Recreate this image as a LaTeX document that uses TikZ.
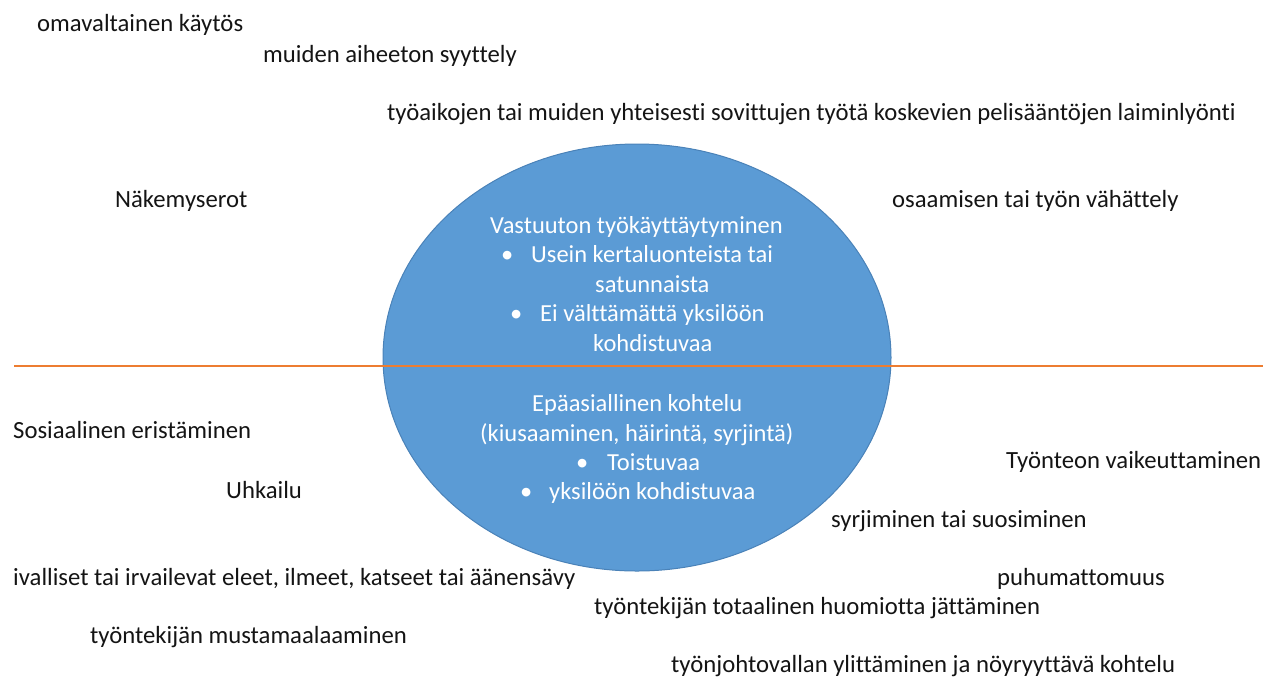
\documentclass[tikz,border=0pt]{standalone}
\usepackage{fontspec}
\setmainfont{Carlito}[Ligatures=NoCommon]
\usetikzlibrary{shapes.geometric}
\definecolor{ellfill}{HTML}{5B9BD5}
\definecolor{elldraw}{HTML}{4A82B8}
\definecolor{orangeline}{HTML}{ED7D31}
\begin{document}
\begin{tikzpicture}[x=1pt,y=-1pt,
  lbl/.style={anchor=base west,inner sep=0pt,font=\fontsize{24.7}{28}\selectfont,text=black!92},
  inl/.style={anchor=base west,inner sep=0pt,font=\fontsize{24.5}{28}\selectfont,text=white},
  bul/.style={inl}]
\useasboundingbox (0,0) rectangle (1263,678);
\node[ellipse,draw=elldraw,line width=1pt,fill=ellfill,minimum width=508pt,minimum height=427pt,inner sep=0pt] (ell) at (637,357.5) {};
\coordinate (lineL) at (14,366);
\coordinate (lineR) at (1263,366);
\draw[orangeline,line width=2pt] (lineL) -- (lineR);
% upper labels
\node[lbl] (t1) at (37,31) {omavaltainen käytös};
\node[lbl] (t2) at (263,62) {muiden aiheeton syyttely};
\node[lbl] (t3) at (387,120) {työaikojen tai muiden yhteisesti sovittujen työtä koskevien pelisääntöjen laiminlyönti};
\node[lbl] (t4) at (115,207) {Näkemyserot};
\node[lbl] (t5) at (892,207) {osaamisen tai työn vähättely};
% lower labels
\node[lbl] (b1) at (13,438) {Sosiaalinen eristäminen};
\node[lbl] (b2) at (1006,468) {Työnteon vaikeuttaminen};
\node[lbl] (b3) at (226,498) {Uhkailu};
\node[lbl] (b4) at (831,527) {syrjiminen tai suosiminen};
\node[lbl] (b5) at (13,585) {ivalliset tai irvailevat eleet, ilmeet, katseet tai äänensävy};
\node[lbl] (b6) at (997,585) {puhumattomuus};
\node[lbl] (b7) at (594,614) {työntekijän totaalinen huomiotta jättäminen};
\node[lbl] (b8) at (90,643) {työntekijän mustamaalaaminen};
\node[lbl] (b9) at (671,672) {työnjohtovallan ylittäminen ja nöyryyttävä kohtelu};
% ellipse text upper
\node[inl] (u1) at (490,233) {Vastuuton työkäyttäytyminen};
\node[bul] (u2b) at (501,262) {•};
\node[inl] (u2) at (531,262) {Usein kertaluonteista tai};
\node[inl] (u3) at (595,292) {satunnaista};
\node[bul] (u4b) at (510,321) {•};
\node[inl] (u4) at (540,321) {Ei välttämättä yksilöön};
\node[inl] (u5) at (593,351) {kohdistuvaa};
% ellipse text lower
\node[inl] (l1) at (532,411) {Epäasiallinen kohtelu};
\node[inl] (l2) at (480,441) {(kiusaaminen, häirintä, syrjintä)};
\node[bul] (l3b) at (576,470) {•};
\node[inl] (l3) at (607,470) {Toistuvaa};
\node[bul] (l4b) at (520,499) {•};
\node[inl] (l4) at (549,499) {yksilöön kohdistuvaa};
\end{tikzpicture}
\end{document}
